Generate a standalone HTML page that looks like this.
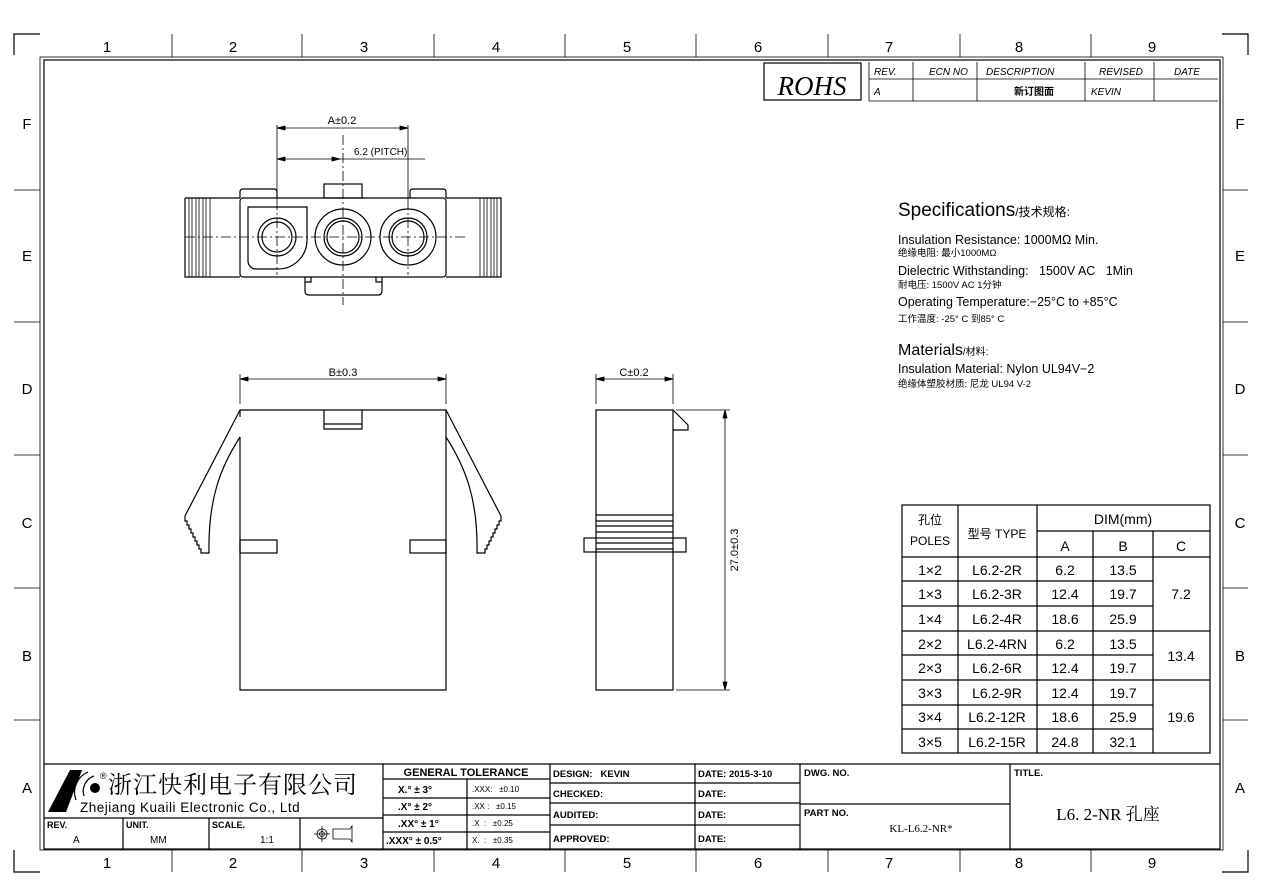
<!DOCTYPE html>
<html><head><meta charset="utf-8"><style>
html,body{margin:0;padding:0;background:#fff}
svg{display:block}
text{font-family:"Liberation Sans","Noto Sans CJK SC",sans-serif;fill:#000}
.s{fill:none;stroke:#000;stroke-width:1.2}
.t{fill:none;stroke:#000;stroke-width:0.8}
.d{fill:none;stroke:#000;stroke-width:0.8;stroke-dasharray:10 3 2 3}
</style></head><body>
<svg width="1262" height="892" viewBox="0 0 1262 892" xmlns="http://www.w3.org/2000/svg">
<path class="s" d="M14,55V34H40 M1248,55V34H1222 M14,850V872H40 M1248,850V872H1222"/>
<rect x="40" y="57" width="1183" height="793" class="t"/>
<rect x="44" y="60" width="1176" height="789" class="s"/>
<g class="t">
<path d="M172,34V57M302,34V57M434,34V57M565,34V57M696,34V57M828,34V57M960,34V57M1091,34V57"/>
<path d="M172,850V872M302,850V872M434,850V872M565,850V872M696,850V872M828,850V872M960,850V872M1091,850V872"/>
<path d="M14,190H40M14,322H40M14,455H40M14,588H40M14,720H40"/>
<path d="M1223,190H1248M1223,322H1248M1223,455H1248M1223,588H1248M1223,720H1248"/>
</g>
<g font-size="15" text-anchor="middle" fill="#000">
<text x="107" y="52">1</text><text x="233" y="52">2</text><text x="364" y="52">3</text><text x="496" y="52">4</text><text x="627" y="52">5</text><text x="758" y="52">6</text><text x="889" y="52">7</text><text x="1019" y="52">8</text><text x="1152" y="52">9</text>
<text x="107" y="868">1</text><text x="233" y="868">2</text><text x="364" y="868">3</text><text x="496" y="868">4</text><text x="627" y="868">5</text><text x="758" y="868">6</text><text x="889" y="868">7</text><text x="1019" y="868">8</text><text x="1152" y="868">9</text>
<text x="27" y="129" fill="#999">F</text><text x="27" y="261">E</text><text x="27" y="394">D</text><text x="27" y="528">C</text><text x="27" y="661">B</text><text x="27" y="793">A</text>
<text x="1240" y="129">F</text><text x="1240" y="261">E</text><text x="1240" y="394">D</text><text x="1240" y="528">C</text><text x="1240" y="661">B</text><text x="1240" y="793">A</text>
</g>
<rect x="764" y="63" width="97" height="37" class="s"/>
<text x="812" y="95" text-anchor="middle" font-style="italic" font-size="27" style="font-family:'Liberation Serif',serif">ROHS</text>
<g class="t"><path d="M869,62V101M869,79H1218M869,101H1218M913,62V101M977,62V101M1085,62V101M1154,62V101"/></g>
<g font-size="10" font-style="italic">
<text x="874" y="75">REV.</text><text x="929" y="75">ECN NO</text><text x="986" y="75">DESCRIPTION</text><text x="1099" y="75">REVISED</text><text x="1174" y="75">DATE</text>
<text x="874" y="95">A</text><text x="1014" y="95" font-style="normal" font-weight="bold">新订图面</text><text x="1091" y="95">KEVIN</text>
</g>
<g class="t">
<path d="M277,125V200M408,125V200M277,128H408M277,159H425"/>
<path d="M277,128l8,-2v4zM408,128l-8,-2v4zM277,159l8,-2v4zM340,159l-8,-2v4z" fill="#000"/>
</g>
<text x="342" y="124" font-size="11" text-anchor="middle">A±0.2</text>
<text x="354" y="155" font-size="10">6.2 (PITCH)</text>
<g class="s">
<rect x="240" y="198" width="206" height="79" rx="3"/>
<path d="M240,198V192q0,-3 3,-3H274q3,0 3,3V198M410,198V192q0,-3 3,-3H443q3,0 3,3V198"/>
<rect x="324" y="184" width="38" height="14"/>
<path d="M185,198V277H240M185,198H240M446,198H501V277H446"/>
<path d="M248,207H307V240A29,29 0 0 1 278,269H256A8,8 0 0 1 248,261Z" />
<circle cx="277" cy="237" r="19"/><circle cx="277" cy="237" r="15"/>
<circle cx="343" cy="237" r="28"/><circle cx="343" cy="237" r="19"/><circle cx="343" cy="237" r="16"/>
<circle cx="408" cy="237" r="28"/><circle cx="408" cy="237" r="19"/><circle cx="408" cy="237" r="16"/>
<path d="M305,277V291q0,4 4,4H378q4,0 4,-4V277M305,282h6v-5M382,282h-6v-5"/>
</g>
<g class="t"><path d="M189,198V277M192,198V277M196,198V277M199,198V277M203,198V277M206,198V277M210,198V277M480,198V277M484,198V277M487,198V277M491,198V277M494,198V277M497,198V277"/></g>
<path class="d" d="M185,237H465M343,135V305M277,200V275M408,200V275"/>
<g class="t"><path d="M240,374V404M446,374V404M240,379H446"/><path d="M240,379l8,-2v4zM446,379l-8,-2v4z" fill="#000"/></g>
<text x="343" y="376" font-size="11" text-anchor="middle">B±0.3</text>
<g class="s">
<path d="M240,410H446V690H240V437M240,410V417"/>
<path d="M324,410V429H362V410M324,424H362"/>
<rect x="240" y="540" width="37" height="13"/><rect x="410" y="540" width="36" height="13"/>
<path d="M240,410L185,516V521h2v4h2v4h2v4h2v4h2v4h2v4h2v4h2v4H209C208,500 220,468 240,437"/>
<path d="M446,410L501,516V521h-2v4h-2v4h-2v4h-2v4h-2v4h-2v4h-2v4h-2v4H477C478,500 466,468 446,437"/>
</g>
<g class="t"><path d="M596,374V404M673,374V404M596,379H673"/><path d="M596,379l8,-2v4zM673,379l-8,-2v4zM725,410l-2,8h4zM725,690l-2,-8h4z" fill="#000"/>
<path d="M676,410H730M676,690H730M725,410V690"/></g>
<text x="634" y="376" font-size="11" text-anchor="middle">C±0.2</text>
<text transform="translate(738,550) rotate(-90)" font-size="11" text-anchor="middle">27.0±0.3</text>
<g class="s">
<rect x="596" y="410" width="77" height="280"/>
<path d="M673,410L688,425V430H673"/>
<rect x="584" y="538" width="102" height="14"/>
<path d="M596,515H673M596,521H673M596,526H673M596,532H673M596,543H673M596,549H673"/>
</g>
<g>
<text x="898" y="216" font-size="19">Specifications<tspan font-size="12">/技术规格:</tspan></text>
<text x="898" y="244" font-size="12.5">Insulation Resistance: 1000MΩ Min.</text>
<text x="898" y="256" font-size="9.5">绝缘电阻: 最小1000MΩ</text>
<text x="898" y="275" font-size="12.5">Dielectric Withstanding:&#160;&#160; 1500V AC&#160;&#160; 1Min</text>
<text x="898" y="288" font-size="9.5">耐电压: 1500V AC 1分钟</text>
<text x="898" y="306" font-size="12.5">Operating Temperature:−25°C to +85°C</text>
<text x="898" y="322" font-size="9.5">工作温度: -25° C 到85° C</text>
<text x="898" y="355" font-size="16">Materials<tspan font-size="10">/材料:</tspan></text>
<text x="898" y="373" font-size="12.5">Insulation Material: Nylon UL94V−2</text>
<text x="898" y="387" font-size="9.5">绝缘体塑胶材质: 尼龙  UL94 V-2</text>
</g>
<g class="s">
<rect x="902" y="505" width="308" height="248"/>
<path d="M958,505V753M1037,505V753M1093,531V753M1153,531V753M1037,531H1210M902,557H1210M902,581H1153M902,606H1153M902,631H1210M902,655H1153M902,680H1210M902,705H1153M902,729H1153"/>
</g>
<g font-size="14" text-anchor="middle">
<text x="930" y="524" font-size="12">孔位</text><text x="930" y="545" font-size="12">POLES</text>
<text x="997" y="538" font-size="12">型号 TYPE</text><text x="1123" y="524">DIM(mm)</text>
<text x="1065" y="551">A</text><text x="1123" y="551">B</text><text x="1181" y="551">C</text>
<text x="930" y="575">1×2</text><text x="997" y="575">L6.2-2R</text><text x="1065" y="575">6.2</text><text x="1123" y="575">13.5</text>
<text x="930" y="599">1×3</text><text x="997" y="599">L6.2-3R</text><text x="1065" y="599">12.4</text><text x="1123" y="599">19.7</text><text x="1181" y="599">7.2</text>
<text x="930" y="624">1×4</text><text x="997" y="624">L6.2-4R</text><text x="1065" y="624">18.6</text><text x="1123" y="624">25.9</text>
<text x="930" y="649">2×2</text><text x="997" y="649">L6.2-4RN</text><text x="1065" y="649">6.2</text><text x="1123" y="649">13.5</text><text x="1181" y="661">13.4</text>
<text x="930" y="673">2×3</text><text x="997" y="673">L6.2-6R</text><text x="1065" y="673">12.4</text><text x="1123" y="673">19.7</text>
<text x="930" y="698">3×3</text><text x="997" y="698">L6.2-9R</text><text x="1065" y="698">12.4</text><text x="1123" y="698">19.7</text>
<text x="930" y="722">3×4</text><text x="997" y="722">L6.2-12R</text><text x="1065" y="722">18.6</text><text x="1123" y="722">25.9</text><text x="1181" y="722">19.6</text>
<text x="930" y="747">3×5</text><text x="997" y="747">L6.2-15R</text><text x="1065" y="747">24.8</text><text x="1123" y="747">32.1</text>
</g>
<g class="s">
<path d="M44,764H1220"/>
<path d="M44,818H383M383,764V849M123,818V849M209,818V849M300,818V849"/>
<path d="M383,779H550M383,798H550M383,815H550M383,832H550M467,779V849M550,764V849M695,764V849M800,764V849M1010,764V849"/>
<path d="M550,783H800M550,803H800M550,825H800M800,804H1010"/>
</g>
<path d="M48,812L70,770L82,770L66,812Z" fill="#000"/>
<path d="M88,772A22,22 0 0 0 76,800" class="s" stroke-width="3"/>
<path d="M94,776A16,16 0 0 0 84,796" class="s" stroke-width="3"/>
<circle cx="95" cy="788" r="5" fill="#000"/>
<text x="100" y="779" font-size="9">®</text>
<text x="108" y="793" font-size="24" style="font-family:'Noto Serif CJK SC','Noto Sans CJK SC',serif" letter-spacing="1">浙江快利电子有限公司</text>
<text x="80" y="812" font-size="13.5" letter-spacing="0.5">Zhejiang Kuaili Electronic Co., Ltd</text>
<g font-size="9" font-weight="bold">
<text x="47" y="828">REV.</text><text x="126" y="828">UNIT.</text><text x="212" y="828">SCALE.</text>
</g>
<text x="73" y="843" font-size="10">A</text><text x="150" y="843" font-size="10">MM</text><text x="260" y="843" font-size="10">1:1</text>
<g class="t"><circle cx="322" cy="834" r="5"/><circle cx="322" cy="834" r="2.5"/><path d="M314,834H330M322,826V842M333,829H350L352,826V842L350,839H333Z"/></g>
<text x="466" y="776" font-size="11" text-anchor="middle" font-weight="bold">GENERAL TOLERANCE</text>
<g font-size="10" font-weight="bold"><text x="398" y="793">X.° ± 3°</text><text x="398" y="810">.X° ± 2°</text><text x="398" y="827">.XX° ± 1°</text><text x="386" y="844">.XXX° ± 0.5°</text></g>
<g font-size="8" style="font-family:'Liberation Serif',serif"><text x="472" y="792">.XXX:&#160;&#160; ±0.10</text><text x="472" y="809">.XX :&#160;&#160; ±0.15</text><text x="472" y="826">.X&#160; :&#160;&#160; ±0.25</text><text x="472" y="843">X.&#160; :&#160;&#160; ±0.35</text></g>
<g font-size="9.5" font-weight="bold">
<text x="553" y="777">DESIGN:&#160;&#160; KEVIN</text><text x="553" y="797">CHECKED:</text><text x="553" y="818">AUDITED:</text><text x="553" y="842">APPROVED:</text>
<text x="698" y="777">DATE: 2015-3-10</text><text x="698" y="797">DATE:</text><text x="698" y="818">DATE:</text><text x="698" y="842">DATE:</text>
<text x="804" y="776">DWG. NO.</text><text x="804" y="816">PART NO.</text><text x="1014" y="776">TITLE.</text>
</g>
<text x="921" y="832" font-size="11" text-anchor="middle" style="font-family:'Liberation Serif','Noto Serif CJK SC',serif">KL-L6.2-NR*</text>
<text x="1108" y="820" font-size="17" text-anchor="middle" style="font-family:'Liberation Serif','Noto Serif CJK SC',serif">L6. 2-NR 孔座</text>
</svg>
</body></html>
